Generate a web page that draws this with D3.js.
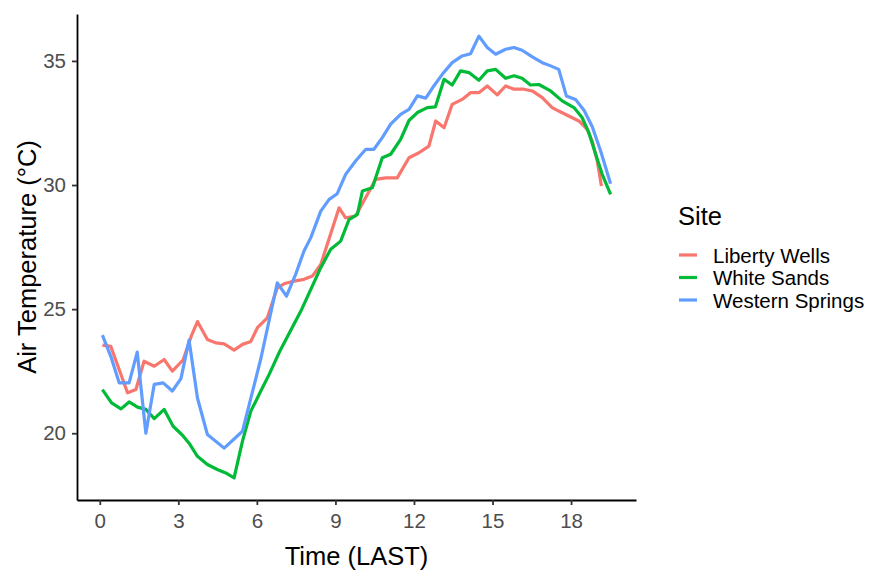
<!DOCTYPE html>
<html>
<head>
<meta charset="utf-8">
<script src="https://cdn.jsdelivr.net/npm/d3@7"></script>
<style>
  body { margin: 0; background: #fff; }
  text { font-family: "Liberation Sans", Arial, sans-serif; }
</style>
</head>
<body>
<svg id="chart" width="870" height="571"></svg>
<script>
// Site names and their line colours
const sites = ["Liberty Wells", "White Sands", "Western Springs"];
const siteColors = ["#F8766D", "#00BA38", "#619CFF"];

// Liberty Wells: time (h, LAST) and air temperature (°C)
const libertyTime = [0.10, 0.42, 1.06, 1.38, 1.69, 2.08, 2.46, 2.77, 3.18, 3.49, 3.73, 4.11, 4.43, 4.75, 5.13, 5.45, 5.77, 6.02, 6.40, 6.78, 7.04, 7.42, 7.80, 8.12, 8.44, 8.69, 9.14, 9.39, 9.77, 10.22, 10.54, 10.92, 11.36, 11.81, 12.19, 12.57, 12.83, 13.15, 13.46, 13.84, 14.16, 14.48, 14.80, 15.18, 15.50, 15.82, 16.20, 16.52, 16.90, 17.28, 17.53, 17.91, 18.30, 18.61, 18.81, 19.00, 19.16];
const libertyTemp = [23.55, 23.5, 21.63, 21.76, 22.9, 22.7, 22.97, 22.5, 22.95, 23.9, 24.5, 23.78, 23.64, 23.6, 23.35, 23.58, 23.7, 24.25, 24.65, 25.86, 26.02, 26.13, 26.2, 26.33, 26.8, 27.61, 29.08, 28.68, 28.75, 29.62, 30.23, 30.29, 30.29, 31.1, 31.3, 31.57, 32.58, 32.31, 33.25, 33.45, 33.72, 33.72, 33.99, 33.63, 33.99, 33.86, 33.86, 33.79, 33.52, 33.12, 32.98, 32.78, 32.58, 32.25, 31.77, 30.97, 29.96];

// White Sands
const whiteTime = [0.10, 0.45, 0.81, 1.12, 1.44, 1.76, 2.08, 2.46, 2.80, 3.15, 3.41, 3.73, 4.11, 4.49, 4.81, 5.13, 5.45, 5.77, 6.15, 6.47, 6.85, 7.68, 8.44, 8.82, 9.20, 9.52, 9.84, 10.03, 10.41, 10.79, 11.11, 11.49, 11.81, 12.13, 12.51, 12.82, 13.15, 13.46, 13.78, 14.10, 14.48, 14.80, 15.12, 15.50, 15.82, 16.13, 16.45, 16.77, 17.22, 17.66, 18.11, 18.42, 18.68, 18.94, 19.19, 19.51];
const whiteTemp = [21.76, 21.22, 20.98, 21.26, 21.05, 20.96, 20.59, 20.96, 20.28, 19.93, 19.6, 19.07, 18.74, 18.54, 18.4, 18.2, 19.68, 20.89, 21.7, 22.37, 23.25, 24.92, 26.67, 27.41, 27.74, 28.61, 28.82, 29.76, 29.89, 31.1, 31.24, 31.84, 32.6, 32.92, 33.12, 33.15, 34.26, 34.03, 34.6, 34.53, 34.22, 34.6, 34.66, 34.3, 34.4, 34.3, 34.03, 34.05, 33.79, 33.39, 33.12, 32.72, 32.11, 31.24, 30.43, 29.62];

// Western Springs
const westernTime = [0.10, 0.42, 0.74, 1.12, 1.43, 1.76, 2.08, 2.42, 2.77, 3.10, 3.41, 3.73, 4.11, 4.75, 5.45, 6.15, 6.78, 7.13, 7.48, 7.80, 8.06, 8.44, 8.76, 9.07, 9.39, 9.77, 10.16, 10.47, 10.79, 11.11, 11.49, 11.81, 12.13, 12.45, 12.76, 13.08, 13.46, 13.84, 14.16, 14.48, 14.80, 15.12, 15.50, 15.82, 16.13, 16.52, 16.90, 17.22, 17.53, 17.82, 18.17, 18.50, 18.81, 19.13, 19.51];
const westernTemp = [23.95, 23.1, 22.03, 22.03, 23.27, 20.0, 21.97, 22.03, 21.7, 22.2, 23.75, 21.42, 19.95, 19.4, 20.08, 23.0, 26.06, 25.52, 26.4, 27.34, 27.88, 28.95, 29.42, 29.65, 30.43, 30.97, 31.44, 31.44, 31.91, 32.45, 32.85, 33.05, 33.59, 33.5, 33.99, 34.46, 34.93, 35.2, 35.29, 36.0, 35.54, 35.27, 35.47, 35.54, 35.43, 35.16, 34.93, 34.8, 34.66, 33.59, 33.45, 33.0, 32.35, 31.37, 30.05];

// Axis ticks and titles
const xTicks = [0, 3, 6, 9, 12, 15, 18];
const yTicks = [20, 25, 30, 35];
const xTitle = "Time (LAST)";
const yTitle = "Air Temperature (°C)";
const legendTitle = "Site";

const seriesTimes = [libertyTime, whiteTime, westernTime];
const seriesTemps = [libertyTemp, whiteTemp, westernTemp];

const series = sites.map((name, i) => ({
  name,
  color: siteColors[i],
  values: seriesTimes[i].map((t, j) => ({ t, v: seriesTemps[i][j] }))
}));

// Panel geometry
const panel = { left: 77, right: 636, top: 14, bottom: 500 };

// Continuous scales padded 5% on each side of the data range
function expanded(ext) {
  const pad = (ext[1] - ext[0]) * 0.05;
  return [ext[0] - pad, ext[1] + pad];
}
const allT = series.flatMap(s => s.values.map(d => d.t));
const allV = series.flatMap(s => s.values.map(d => d.v));

const x = d3.scaleLinear().domain(expanded(d3.extent(allT))).range([panel.left, panel.right]);
const y = d3.scaleLinear().domain(expanded(d3.extent(allV))).range([panel.bottom, panel.top]);

const svg = d3.select("#chart");

// Data lines
const line = d3.line().x(d => x(d.t)).y(d => y(d.v));
svg.append("g").selectAll("path")
  .data(series)
  .join("path")
  .attr("d", d => line(d.values))
  .attr("fill", "none")
  .attr("stroke", d => d.color)
  .attr("stroke-width", 3.2)
  .attr("stroke-linejoin", "round")
  .attr("stroke-linecap", "butt");

// Axes
const xAxis = svg.append("g")
  .attr("transform", `translate(0,${panel.bottom})`)
  .call(d3.axisBottom(x).tickValues(xTicks).tickSize(5).tickSizeOuter(0).tickPadding(8));
const yAxis = svg.append("g")
  .attr("transform", `translate(${panel.left},0)`)
  .call(d3.axisLeft(y).tickValues(yTicks).tickSize(5).tickSizeOuter(0).tickPadding(6));

[xAxis, yAxis].forEach(g => {
  g.select(".domain").attr("stroke", "#000").attr("stroke-width", 1.8);
  g.selectAll(".tick line").attr("stroke", "#333").attr("stroke-width", 1.8);
  g.selectAll(".tick text")
    .attr("fill", "#4D4D4D")
    .style("font-size", "20.5px")
    .style("font-family", "'Liberation Sans', Arial, sans-serif");
});

// Axis titles
svg.append("text")
  .attr("x", (panel.left + panel.right) / 2)
  .attr("y", 556)
  .attr("text-anchor", "middle")
  .attr("dominant-baseline", "central")
  .style("font-size", "25.5px")
  .attr("fill", "#000")
  .text(xTitle);

svg.append("text")
  .attr("transform", `translate(27,${(panel.top + panel.bottom) / 2}) rotate(-90)`)
  .attr("text-anchor", "middle")
  .attr("dominant-baseline", "central")
  .style("font-size", "25.5px")
  .attr("fill", "#000")
  .text(yTitle);

// Legend
const legend = svg.append("g").attr("transform", "translate(678,0)");
legend.append("text")
  .attr("x", 0)
  .attr("y", 216)
  .attr("dominant-baseline", "central")
  .style("font-size", "25.5px")
  .attr("fill", "#000")
  .text(legendTitle);

const keyY = d3.scalePoint().domain(sites).range([255, 300]);
const items = legend.selectAll("g.item")
  .data(series)
  .join("g")
  .attr("class", "item")
  .attr("transform", d => `translate(0,${keyY(d.name)})`);
items.append("line")
  .attr("x1", 1).attr("x2", 19)
  .attr("stroke", d => d.color)
  .attr("stroke-width", 3.2);
items.append("text")
  .attr("x", 35)
  .attr("dominant-baseline", "central")
  .style("font-size", "20.5px")
  .attr("fill", "#000")
  .text(d => d.name);
</script>
</body>
</html>
